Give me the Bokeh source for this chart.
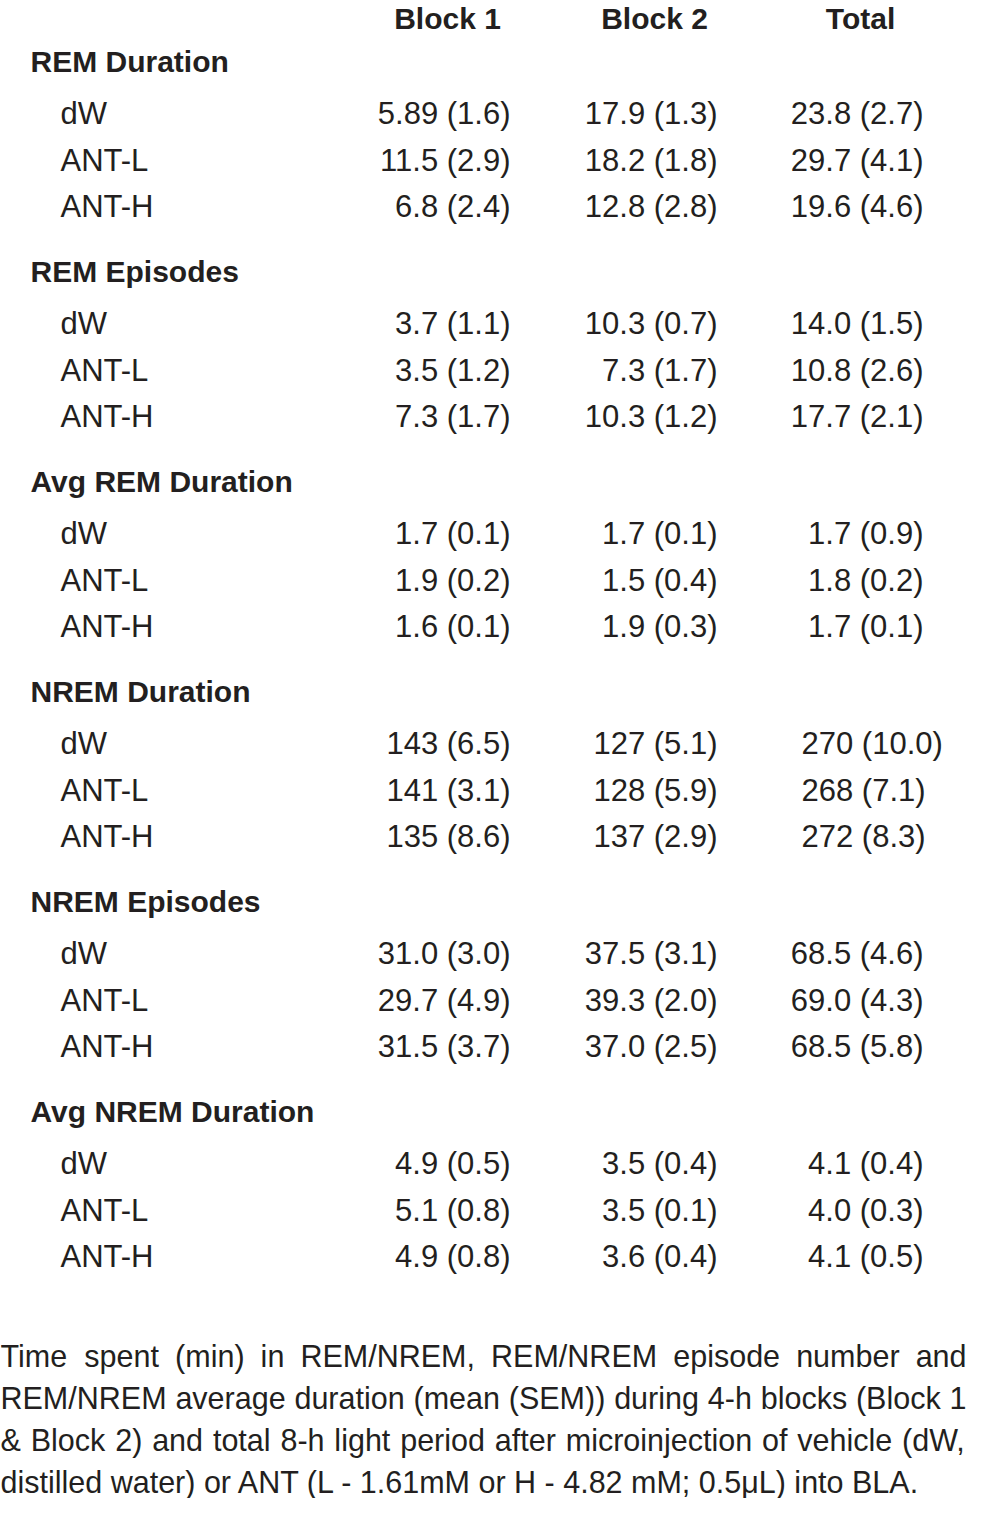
from bokeh.plotting import figure
from bokeh.models import ColumnDataSource, Range1d
from bokeh.core.properties import value
from bokeh.embed import file_html
from bokeh.resources import INLINE

# ---------------- data ----------------
columns = ["Block 1", "Block 2", "Total"]
sections = ["REM Duration", "REM Episodes", "Avg REM Duration",
            "NREM Duration", "NREM Episodes", "Avg NREM Duration"]
groups = ["dW", "ANT-L", "ANT-H"]

block1 = ["5.89 (1.6)", "11.5 (2.9)", "6.8 (2.4)",
          "3.7 (1.1)", "3.5 (1.2)", "7.3 (1.7)",
          "1.7 (0.1)", "1.9 (0.2)", "1.6 (0.1)",
          "143 (6.5)", "141 (3.1)", "135 (8.6)",
          "31.0 (3.0)", "29.7 (4.9)", "31.5 (3.7)",
          "4.9 (0.5)", "5.1 (0.8)", "4.9 (0.8)"]
block2 = ["17.9 (1.3)", "18.2 (1.8)", "12.8 (2.8)",
          "10.3 (0.7)", "7.3 (1.7)", "10.3 (1.2)",
          "1.7 (0.1)", "1.5 (0.4)", "1.9 (0.3)",
          "127 (5.1)", "128 (5.9)", "137 (2.9)",
          "37.5 (3.1)", "39.3 (2.0)", "37.0 (2.5)",
          "3.5 (0.4)", "3.5 (0.1)", "3.6 (0.4)"]
total = ["23.8 (2.7)", "29.7 (4.1)", "19.6 (4.6)",
         "14.0 (1.5)", "10.8 (2.6)", "17.7 (2.1)",
         "1.7 (0.9)", "1.8 (0.2)", "1.7 (0.1)",
         "270 (10.0)", "268 (7.1)", "272 (8.3)",
         "68.5 (4.6)", "69.0 (4.3)", "68.5 (5.8)",
         "4.1 (0.4)", "4.0 (0.3)", "4.1 (0.5)"]

caption_lines = [
    "Time spent (min) in REM/NREM, REM/NREM episode number and",
    "REM/NREM average duration (mean (SEM)) during 4-h blocks (Block 1",
    "& Block 2) and total 8-h light period after microinjection of vehicle (dW,",
    "distilled water) or ANT (L - 1.61mM or H - 4.82 mM; 0.5\u03bcL) into BLA.",
]

# ---------------- layout / style ----------------
FONT = "Liberation Sans"
INK = "#231f20"
W, H = 966, 1498
X0, X1 = 0, 966
Y0, Y1 = 13, 1511

head_x = [447, 654, 860]
head_y = 31
sec_x = 30
sec_y0 = 74
sec_step = 210
row_x = 60
row_y0 = 126
row_step = 46.5
col_right = [510, 717, 923]
total_left_sections = {"NREM Duration": 801}

p = figure(width=W, height=H, x_range=Range1d(X0, X1), y_range=Range1d(Y1, Y0),
           output_backend="svg", toolbar_location=None, min_border=0,
           background_fill_color="white", border_fill_color="white")
p.axis.visible = False
p.grid.visible = False
p.outline_line_color = None

# column headers
p.text(x=head_x, y=[head_y] * 3, text=columns, text_font=value(FONT),
       text_font_size="30px", text_font_style="bold", text_color=INK,
       text_align="center", text_baseline="alphabetic")

# section headers
p.text(x=[sec_x] * len(sections), y=[sec_y0 + sec_step * k for k in range(len(sections))],
       text=sections, text_font=value(FONT), text_font_size="30px",
       text_font_style="bold", text_color=INK, text_align="left",
       text_baseline="alphabetic")

# row labels and values
lab_x, lab_y, lab_t = [], [], []
rv = {"x": [], "y": [], "t": []}
lv = {"x": [], "y": [], "t": []}
for k, sec in enumerate(sections):
    for j, g in enumerate(groups):
        i = k * 3 + j
        y = row_y0 + sec_step * k + row_step * j
        lab_x.append(row_x); lab_y.append(y); lab_t.append(g)
        for c, vals in enumerate([block1, block2, total]):
            if c == 2 and sec in total_left_sections:
                lv["x"].append(total_left_sections[sec]); lv["y"].append(y); lv["t"].append(vals[i])
            else:
                rv["x"].append(col_right[c]); rv["y"].append(y); rv["t"].append(vals[i])

common = dict(text_font=value(FONT), text_font_size="31px", text_color=INK,
              text_baseline="alphabetic")
p.text(x=lab_x, y=lab_y, text=lab_t, text_align="left", **common)
p.text(x="x", y="y", text="t", source=ColumnDataSource(rv), text_align="right", **common)
p.text(x="x", y="y", text="t", source=ColumnDataSource(lv), text_align="left", **common)

# caption: justified lines (Arial / Liberation Sans advance widths, per 1000 em)
AW = {" ": 278, "&": 667, "(": 333, ")": 333, ",": 278, "-": 333, ".": 278, "/": 278,
      ";": 278, "\u03bc": 556}
for d in "0123456789":
    AW[d] = 556
AW.update(dict(zip("ABCDEFGHIJKLMNOPQRSTUVWXYZ",
                   [667, 667, 722, 722, 667, 611, 778, 722, 278, 500, 667, 556, 833,
                    722, 778, 667, 778, 722, 667, 611, 722, 667, 944, 667, 667, 611])))
AW.update(dict(zip("abcdefghijklmnopqrstuvwxyz",
                   [556, 556, 500, 556, 556, 278, 556, 556, 222, 222, 500, 222, 833,
                    556, 556, 556, 556, 333, 500, 278, 556, 500, 722, 500, 500, 500])))

CAP_FS = 30.5
cap_y0 = 1368
cap_step = 42
cw = {"x": [], "y": [], "t": []}
for n, line in enumerate(caption_lines):
    y = cap_y0 + cap_step * n
    if n < len(caption_lines) - 1:
        words = line.split(" ")
        widths = [sum(AW.get(ch, 556) for ch in w) * CAP_FS / 1000 for w in words]
        gap = (X1 - X0 - sum(widths)) / (len(words) - 1)
        x = X0
        for w, wd in zip(words, widths):
            cw["x"].append(x); cw["y"].append(y); cw["t"].append(w)
            x += wd + gap
    else:
        cw["x"].append(X0); cw["y"].append(y); cw["t"].append(line)

p.text(x="x", y="y", text="t", source=ColumnDataSource(cw), text_font=value(FONT),
       text_font_size=f"{CAP_FS}px", text_color=INK, text_align="left",
       text_baseline="alphabetic")

open("out.html", "w").write(file_html(p, INLINE))
